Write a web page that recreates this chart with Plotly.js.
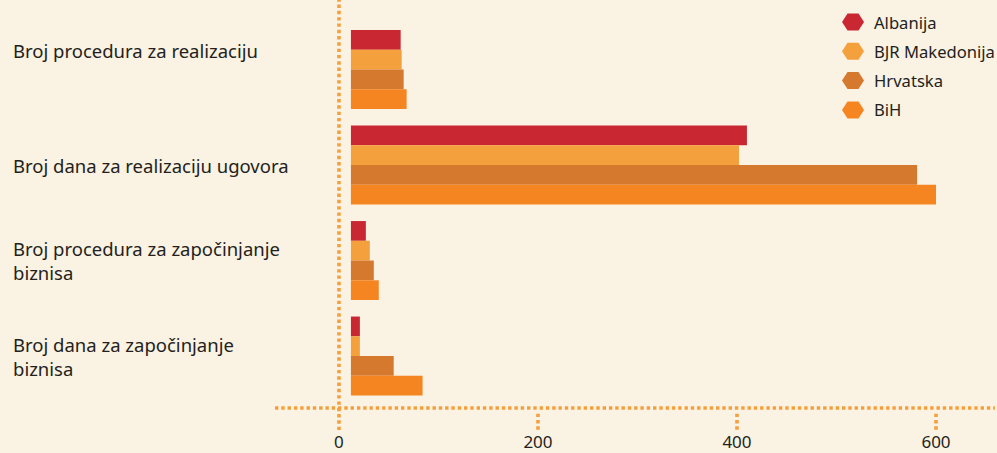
<!DOCTYPE html>
<html>
<head>
<meta charset="utf-8">
<script src="https://cdn.plot.ly/plotly-3.0.1.min.js"></script>
<style>html,body{margin:0;padding:0;background:#faf2e2;}#chart{width:997px;height:453px;}</style>
</head>
<body>
<div id="chart"></div>
<script>
// Categories (top to bottom)
const categories = [
  "Broj procedura za realizaciju",
  "Broj dana za realizaciju ugovora",
  "Broj procedura za započinjanje biznisa",
  "Broj dana za započinjanje biznisa"
];
const categoryLabels = [
  "Broj procedura za realizaciju",
  "Broj dana za realizaciju ugovora",
  "Broj procedura za započinjanje<br>biznisa",
  "Broj dana za započinjanje<br>biznisa"
];
const seriesNames = ["Albanija", "BJR Makedonija", "Hrvatska", "BiH"];
// Values read at bar ends on the x axis
const albanija   = [62, 410, 27, 21];
const makedonija = [63, 402, 31, 21];
const hrvatska   = [65, 581, 35, 55];
const bih        = [68, 600, 40, 84];
const xTicks = [0, 200, 400, 600];

const seriesValues = [albanija, makedonija, hrvatska, bih];
const colors = ["#c92833", "#f4a03d", "#d5792f", "#f58521"];
const dotColor = "#f5a03f";
const textColor = "#231f20";
const barStart = 12; // bars in the original start slightly right of zero
const dotLine = {color: dotColor, width: 3.6, dash: "3.4px,2.9px"};

const traces = seriesValues.map((vals, i) => ({
  type: "bar", orientation: "h",
  y: categories, x: vals.map(v => v - barStart), base: barStart,
  marker: {color: colors[i]},
  name: seriesNames[i], showlegend: false, hoverinfo: "skip"
}));

const shapes = [
  {type: "line", xref: "paper", yref: "paper", x0: 0, x1: 1, y0: 0, y1: 0, line: dotLine},
  {type: "line", xref: "x", yref: "paper", x0: 0, x1: 0, y0: -0.054, y1: 1, line: dotLine}
];
xTicks.slice(1).forEach(t => shapes.push({
  type: "line", xref: "x", yref: "paper", x0: t, x1: t, y0: -0.014, y1: -0.054, line: dotLine
}));

const annotations = categories.map((c, i) => ({
  xref: "paper", yref: "y", x: -0.366, y: c, xanchor: "left", yanchor: "middle",
  align: "left", showarrow: false, text: categoryLabels[i],
  yshift: i === 0 ? 19 : 0,
  font: {family: "Noto Sans, sans-serif", size: 18.5, color: textColor}
}));

// custom legend with hexagon markers
const legendX = 0.8028, legendTextX = 0.829, legendTop = 0.946, legendStep = 0.0718;
const hexPath = "M-11,0 L-5.5,-8.5 L5.5,-8.5 L11,0 L5.5,8.5 L-5.5,8.5 Z";
seriesNames.forEach((n, i) => {
  const yy = legendTop - i * legendStep;
  shapes.push({type: "path", xref: "paper", yref: "paper", xsizemode: "pixel", ysizemode: "pixel",
    xanchor: legendX, yanchor: yy, path: hexPath, fillcolor: colors[i], line: {width: 0}});
  annotations.push({xref: "paper", yref: "paper", x: legendTextX, y: yy, xanchor: "left", yanchor: "middle",
    showarrow: false, text: n, font: {family: "Noto Sans, sans-serif", size: 16.6, color: textColor}});
});

const layout = {
  width: 997, height: 453,
  margin: {l: 275, r: 2, t: 0, b: 45},
  paper_bgcolor: "#faf2e2", plot_bgcolor: "#faf2e2",
  barmode: "group", bargap: 0.173, bargroupgap: 0,
  showlegend: false,
  font: {family: "Noto Sans, sans-serif", color: textColor},
  xaxis: {range: [-64.3, 659.3], tickvals: xTicks, ticktext: xTicks.map(String),
    showgrid: false, zeroline: false, showline: false,
    ticks: "outside", ticklen: 19, tickcolor: "rgba(0,0,0,0)",
    tickfont: {size: 17, color: textColor}},
  yaxis: {type: "category", categoryarray: categories, range: [3.544, -0.728],
    showgrid: false, zeroline: false, showline: false, showticklabels: false, ticks: ""},
  shapes: shapes, annotations: annotations
};

Plotly.newPlot("chart", traces, layout, {displayModeBar: false, staticPlot: true});
</script>
</body>
</html>
